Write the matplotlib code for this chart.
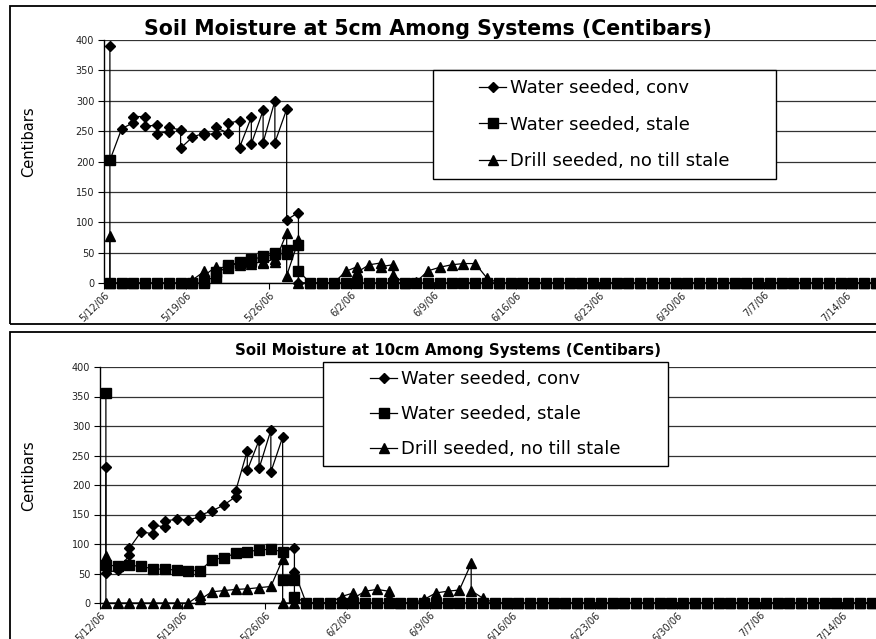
"""Soil moisture at 5 cm and 10 cm among seeding systems (Excel-style chart)."""

import datetime as dt

import matplotlib
matplotlib.use("Agg")
import matplotlib.pyplot as plt
import matplotlib.dates as mdates
from matplotlib.patches import Rectangle
from matplotlib.ticker import FuncFormatter, MultipleLocator

START = dt.datetime(2006, 5, 12)
LAST_DAY = 66          # 7/17/06, last reading at the right edge
TICK_DAYS = list(range(0, 64, 7))   # 5/12 ... 7/14

LABELS = ["Water seeded, conv", "Water seeded, stale",
          "Drill seeded, no till stale"]

# Readings per day (day 0 = 5/12/06). Several readings on one day share
# the same date, which gives the vertical zig-zags. After the listed days
# every reading is 0.
conv_5cm = [[390, 202], [254], [264, 274], [274, 258], [260, 246],
            [249, 256], [252, 222], [240], [247, 244], [246, 256],
            [247, 263], [267, 223], [273, 229], [284, 231], [300, 231],
            [286, 104], [116, 0]]
stale_5cm = [[202, 0], [0], [0], [0], [0], [0], [0], [0], [0, 4],
             [10, 18], [25, 30], [33, 35], [37, 40], [42, 44], [47, 50],
             [47, 54], [63, 20]]
drill_5cm = [[78, 0], [0], [0], [0], [0], [0], [0], [0, 5], [19, 12],
             [27, 20], [30, 28], [33, 30], [35, 32], [35, 33], [40, 35],
             [82, 12], [70, 0], [0], [0], [0], [19], [27, 18], [30],
             [33, 27], [30, 13], [0], [2], [20], [26], [30], [32], [32],
             [8]]

conv_10cm = [[230, 51], [56], [81, 93], [121], [117, 132], [129, 139],
             [142], [141], [146, 149], [156], [166], [180, 189],
             [258, 225], [276, 228], [293, 222], [281, 87], [93, 53]]
stale_10cm = [[356, 64], [63], [64], [62], [58], [57], [56], [55], [55],
              [73], [77], [84], [87], [90], [91], [87, 39], [39, 11]]
drill_10cm = [[80, 0], [0], [0], [0], [0], [0], [0], [0], [14, 6], [19],
              [21], [23], [24], [26], [28], [74, 0], [0], [0], [0], [0],
              [11], [17, 8], [20], [23], [20, 10], [0], [0], [6], [17],
              [20], [22], [67, 21], [8]]


def flatten(readings):
    """Turn per-day readings into (dates, values); zeros after the list."""
    days = readings + [[0]] * (LAST_DAY + 1 - len(readings))
    xs, ys = [], []
    for i, vals in enumerate(days):
        for v in vals:
            xs.append(START + dt.timedelta(days=i, hours=12))
            ys.append(v)
    return xs, ys


def date_label(x, pos):
    d = mdates.num2date(x)
    return f"{d.month}/{d.day}/{d:%y}"


W, H = 876, 639
plt.rcParams["font.family"] = ["DejaVu Sans"]
fig = plt.figure(figsize=(W / 100, H / 100), dpi=100)

styles = [("D", 4.6), ("s", 6.6), ("^", 7.0)]


def panel(rect, series, xmax_days, title, title_xy, title_size,
          ylabel_xy, legend_box, spacing):
    ax = fig.add_axes(rect)
    lines = []
    for readings, (mk, ms) in zip(series, styles):
        x, y = flatten(readings)
        ln, = ax.plot(x, y, color="black", lw=0.9, marker=mk, ms=ms,
                      mfc="black", mec="black", clip_on=False, zorder=3)
        lines.append(ln)

    ax.set_ylim(0, 400)
    ax.set_xlim(START, START + dt.timedelta(days=xmax_days))
    ax.yaxis.set_major_locator(MultipleLocator(50))
    ax.set_xticks([START + dt.timedelta(days=d) for d in TICK_DAYS])
    ax.xaxis.set_major_formatter(FuncFormatter(date_label))
    ax.yaxis.grid(True, color="#333333", lw=0.9)
    ax.set_axisbelow(True)
    for s in ("top", "right"):
        ax.spines[s].set_visible(False)
    ax.spines["left"].set_linewidth(1.0)
    ax.spines["bottom"].set_linewidth(1.0)
    ax.tick_params(axis="y", length=4, width=0.8, pad=3, labelsize=7,
                   labelcolor="#222222")
    ax.tick_params(axis="x", length=4, width=0.8, pad=1, labelsize=7,
                   labelcolor="#222222")
    for lab in ax.get_xticklabels():
        lab.set_rotation(45)
        lab.set_ha("right")
        lab.set_rotation_mode("anchor")

    fig.text(title_xy[0] / W, 1 - title_xy[1] / H, title, ha="center",
             va="center", fontsize=title_size, fontweight="bold")
    fig.text(ylabel_xy[0] / W, 1 - ylabel_xy[1] / H, "Centibars",
             rotation=90, ha="center", va="center", fontsize=10.5)

    # legend box (x0, y0, x1, y1 in pixels) and its entries
    x0, y0, x1, y1 = legend_box
    ax.add_patch(Rectangle((x0 / W, 1 - y1 / H), (x1 - x0) / W,
                           (y1 - y0) / H, transform=fig.transFigure,
                           fc="white", ec="black", lw=1.0, zorder=5,
                           clip_on=False))
    leg = ax.legend(lines, LABELS, loc="center",
                    bbox_to_anchor=((x0 + x1) / 2 / W, 1 - (y0 + y1) / 2 / H),
                    bbox_transform=fig.transFigure, frameon=False,
                    fontsize=13, handlelength=1.5, handletextpad=0.2,
                    labelspacing=spacing, borderpad=0, borderaxespad=0)
    leg.set_zorder(6)
    return ax


panel([104 / W, 1 - 283 / H, 1 - 104 / W + 0.01, 243 / H],
      [conv_5cm, stale_5cm, drill_5cm], 66.15 + 0.1,
      "Soil Moisture at 5cm Among Systems (Centibars)", (428, 29), 14.8,
      (29, 142), (433, 70, 776, 179), 1.02)

panel([100 / W, 1 - 603 / H, 1 - 100 / W + 0.01, 236 / H],
      [conv_10cm, stale_10cm, drill_10cm], 66.5 + 0.1,
      "Soil Moisture at 10cm Among Systems (Centibars)", (448, 350), 10.8,
      (29, 476), (323, 362, 668, 466), 0.95)

# chart-area borders, cut off at the right / bottom edge of the page
fig.patches.append(Rectangle((10 / W, 1 - 324 / H), 2, 318 / H,
                             transform=fig.transFigure, fill=False,
                             ec="black", lw=1.3))
fig.patches.append(Rectangle((10 / W, -0.5), 2, 0.5 + 1 - 332 / H,
                             transform=fig.transFigure, fill=False,
                             ec="black", lw=1.3))

fig.savefig("out.png", dpi=100)
